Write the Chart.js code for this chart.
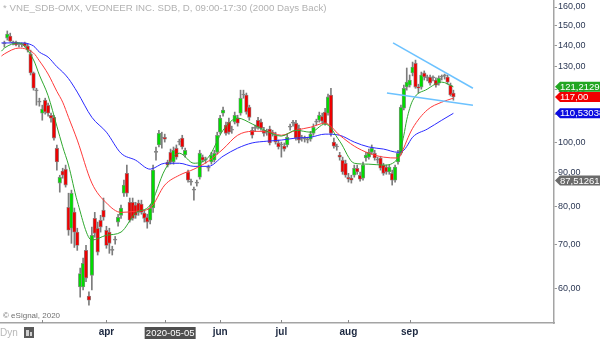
<!DOCTYPE html>
<html lang="en">
<head>
<meta charset="UTF-8">
<title>VNE_SDB-OMX daily</title>
<script src="https://cdn.jsdelivr.net/npm/chart.js"></script>
<style>
  html, body { margin: 0; padding: 0; background: #fff; }
  #wrap { width: 600px; height: 339px; }
</style>
</head>
<body>
<div id="wrap"><canvas id="myChart" width="600" height="339"></canvas></div>
<script>
// daily bars, 2020-02-12 .. 2020-09-22 (bar index 0..154)
const opens = [
  140.7, 143.6, 144.6, 141.2, 141.6, 140.5, 140.4, 141.2, 139.7, 135.9,
  127.2, 119.5, 114.9, 110.6, 115.7, 113.7, 109.8, 109.0, 97.9, 86.7,
  90.4, 91.0, 79.7, 74.1, 78.4, 73.1, 60.4, 60.4, 68.6, 58.5,
  62.9, 76.7, 74.1, 76.2, 78.9, 73.6, 73.1, 68.6, 71.1, 75.7,
  77.5, 83.7, 89.7, 81.1, 81.1, 80.3, 80.9, 80.6, 78.1, 77.0,
  76.2, 79.5, 96.5, 99.0, 101.4, 101.7, 93.3, 96.5, 93.3, 97.9,
  100.0, 101.4, 95.6, 90.1, 87.0, 84.6, 86.7, 88.5, 94.9, 93.9,
  91.3, 93.3, 93.9, 96.5, 103.5, 110.6, 106.1, 107.2, 104.2, 107.2,
  108.7, 110.6, 117.8, 117.8, 112.9, 104.2, 104.9, 107.9, 107.2, 104.2,
  103.5, 104.6, 103.1, 102.4, 99.7, 99.0, 98.6, 99.0, 105.3, 106.8,
  106.8, 104.9, 101.4, 101.0, 100.7, 101.0, 103.1, 107.2, 107.9, 109.4,
  111.0, 110.6, 117.8, 100.0, 98.3, 95.6, 93.9, 92.9, 88.5, 88.2,
  89.1, 91.3, 89.1, 88.2, 94.6, 94.9, 96.5, 96.2, 93.9, 94.6,
  92.3, 91.7, 90.1, 89.7, 87.6, 93.3, 96.2, 112.5, 121.1, 121.9,
  127.2, 131.6, 121.1, 121.1, 127.2, 125.0, 125.4, 125.0, 124.1, 122.8,
  125.4, 125.9, 125.4, 121.9, 118.6
];
const highs = [
  142.1, 147.2, 146.1, 142.1, 142.1, 141.2, 141.2, 141.6, 140.7, 137.7,
  127.6, 120.6, 116.5, 113.7, 116.5, 114.5, 110.6, 109.8, 99.0, 89.1,
  91.3, 92.3, 83.7, 84.6, 79.5, 74.1, 64.5, 66.8, 69.8, 59.4,
  74.4, 78.3, 75.7, 77.5, 82.3, 74.6, 74.1, 69.6, 72.0, 77.8,
  80.3, 87.6, 92.3, 82.3, 82.3, 81.1, 81.7, 81.7, 78.9, 77.8,
  80.3, 92.3, 98.3, 104.2, 103.5, 102.8, 93.9, 97.6, 98.3, 99.0,
  101.0, 102.4, 97.9, 90.7, 87.9, 85.5, 87.6, 97.2, 95.6, 94.9,
  92.3, 96.5, 97.2, 103.5, 109.8, 112.9, 107.2, 108.7, 105.7, 111.0,
  109.8, 119.8, 119.8, 118.6, 113.7, 105.3, 106.1, 109.0, 108.3, 105.3,
  104.6, 105.7, 104.2, 103.5, 100.7, 100.0, 99.7, 102.8, 106.5, 107.9,
  107.9, 106.1, 102.4, 102.1, 101.7, 103.8, 106.5, 108.3, 111.0, 110.6,
  112.5, 118.2, 120.6, 101.4, 99.3, 96.5, 94.9, 93.9, 89.7, 89.1,
  92.3, 92.3, 90.1, 93.3, 96.5, 97.6, 99.0, 97.2, 94.9, 95.2,
  92.9, 92.3, 92.3, 90.7, 92.3, 97.2, 113.7, 121.9, 129.4, 126.3,
  132.1, 133.0, 122.3, 127.6, 128.1, 126.3, 126.3, 125.9, 125.0, 125.9,
  126.3, 126.7, 126.3, 122.8, 119.8
];
const lows = [
  139.2, 142.6, 141.6, 140.2, 139.7, 139.2, 139.2, 139.2, 136.8, 126.3,
  119.8, 113.7, 113.3, 107.9, 110.2, 109.4, 107.2, 100.7, 90.7, 84.0,
  88.2, 85.5, 72.3, 70.3, 69.3, 68.6, 58.3, 59.8, 61.5, 56.7,
  59.8, 71.8, 67.5, 73.1, 76.2, 69.1, 67.9, 67.5, 70.1, 74.6,
  76.7, 82.8, 82.8, 75.7, 76.2, 76.7, 77.5, 77.8, 75.7, 74.1,
  75.2, 78.3, 93.9, 98.3, 97.9, 100.0, 91.7, 92.6, 92.6, 94.2,
  99.0, 97.6, 94.9, 87.0, 86.1, 81.7, 85.8, 87.9, 93.3, 92.9,
  90.4, 92.6, 93.3, 95.9, 102.8, 109.4, 102.4, 102.8, 103.1, 106.5,
  105.7, 109.8, 116.5, 110.2, 107.9, 101.4, 103.8, 104.6, 104.2, 102.1,
  102.4, 99.0, 102.1, 99.3, 97.6, 94.9, 96.9, 98.3, 104.2, 105.7,
  100.7, 99.7, 100.3, 100.0, 99.7, 100.3, 102.4, 106.1, 107.2, 106.8,
  106.1, 109.8, 102.1, 97.9, 97.2, 93.9, 89.4, 88.5, 87.0, 86.7,
  88.5, 89.4, 87.3, 87.6, 93.6, 94.2, 95.9, 93.9, 92.9, 90.7,
  89.1, 89.4, 89.4, 86.1, 87.0, 92.6, 95.6, 111.8, 119.8, 121.1,
  125.9, 120.6, 118.6, 120.2, 124.1, 123.7, 121.9, 123.7, 121.1, 121.9,
  124.1, 124.5, 122.3, 117.4, 115.7
];
const closes = [
  140.7, 145.6, 142.1, 141.2, 140.2, 140.5, 140.4, 139.7, 137.7, 127.2,
  120.6, 119.5, 114.9, 112.2, 111.0, 110.6, 108.7, 101.4, 93.3, 88.5,
  89.1, 86.1, 73.6, 83.7, 73.1, 69.8, 63.3, 65.6, 62.3, 57.7,
  72.3, 72.8, 68.2, 74.4, 77.0, 69.8, 70.3, 68.6, 71.1, 77.0,
  79.5, 86.1, 83.7, 76.2, 76.7, 77.5, 78.3, 78.3, 76.7, 75.7,
  79.5, 90.7, 96.5, 103.1, 101.4, 101.0, 92.3, 93.3, 97.2, 94.9,
  100.0, 98.3, 97.2, 87.6, 87.0, 84.6, 86.7, 96.2, 93.9, 93.9,
  91.3, 95.6, 96.2, 102.4, 108.7, 111.8, 103.1, 103.5, 104.2, 109.8,
  106.8, 116.5, 117.8, 111.0, 109.0, 102.4, 104.9, 105.3, 104.9, 103.1,
  103.5, 99.7, 103.1, 100.0, 98.3, 99.0, 97.6, 101.7, 105.3, 106.8,
  101.4, 100.7, 101.4, 101.0, 100.7, 102.8, 105.3, 107.2, 109.8, 107.5,
  106.8, 117.0, 103.1, 98.6, 98.3, 94.9, 90.1, 89.1, 87.9, 87.6,
  91.3, 90.1, 87.9, 92.3, 95.6, 96.5, 97.9, 94.6, 93.9, 91.3,
  89.7, 90.1, 91.7, 87.6, 91.7, 96.2, 112.9, 120.6, 123.2, 124.1,
  129.8, 121.1, 120.6, 126.3, 125.4, 125.0, 122.8, 125.0, 121.9, 125.0,
  125.4, 125.9, 123.2, 117.8, 117.0
];

// moving averages at these bar positions
const maIndex = [-1, 0, 5, 10, 12, 15, 18, 20, 22, 25, 30, 35, 40, 45, 50, 55, 60, 65, 70,
  75, 80, 85, 90, 95, 100, 105, 110, 115, 120, 125, 130, 135, 137, 138, 140, 145, 150, 154];
const maFast = [137.2, 138.7, 141.2, 133.1, 126.3, 117.5, 105.7, 98.4, 92.3, 81.4, 71.1, 72.3, 73.1,
  78.1, 80.3, 90.7, 96.2, 92.9, 94.9, 104.2, 108.7, 106.5, 103.8, 102.1, 104.2, 103.5, 106.5,
  100.3, 92.9, 92.6, 92.3, 94.6, 102.4, 108.1, 115.5, 120.2, 123.2, 121.21];
const maMid = [134.9, 135.9, 138.7, 136.3, 132.7, 126.7, 119.3, 114.9, 109.0, 100.7, 86.7, 80.9, 78.3,
  78.6, 79.5, 86.1, 89.1, 91.0, 93.6, 97.6, 102.4, 103.8, 103.8, 102.4, 104.2, 105.3, 106.8,
  102.4, 98.6, 96.2, 94.9, 94.6, 98.0, 100.5, 104.9, 111.8, 114.9, 116.5];
const maSlow = [141.2, 141.2, 141.2, 139.7, 136.8, 134.4, 130.0, 127.6, 124.7, 119.0, 109.0, 103.5, 96.2,
  93.9, 91.0, 92.9, 92.9, 91.9, 91.9, 95.2, 97.9, 99.7, 100.3, 100.7, 101.4, 101.7, 102.8,
  102.4, 100.0, 98.3, 97.6, 96.5, 97.2, 98.5, 101.7, 104.6, 107.9, 110.53];

// hand drawn triangle, [bar position, price]
const upperTrend = [[133.3, 141.2], [160.7, 120.6]];
const lowerTrend = [[131.2, 118.6], [160.7, 113.7]];

const monthTicks = [13, 35, 55, 74, 95, 118, 139];
const monthLabels = ['', 'apr', '', 'jun', 'jul', 'aug', 'sep'];
const priceTicks = [60, 70, 80, 90, 100, 110, 120, 130, 140, 150, 160];

const crosshairBar = 56;
const crosshairDate = '2020-05-05';
const titleText = '* VNE_SDB-OMX, VEONEER INC. SDB, D, 09:00-17:30 (2000 Days Back)';

const tagValues = [121.2129, 117.00, 110.53038, 87.51261];
const tagTexts = ['121,21290', '117,00', '110,53038', '87,51261'];
const tagColors = ['#22a622', '#f20000', '#0b0be0', '#6a6a6a'];

const FONT = '"Liberation Sans", Arial, sans-serif';

const wickData = opens.map((o, i) => ({ x: i, y: [lows[i], highs[i]] }));
const bodyData = opens.map((o, i) => ({ x: i, y: [o, closes[i]] }));
const bodyColors = opens.map((o, i) =>
  closes[i] > o ? '#00dc00' : (closes[i] < o ? '#ee0000' : '#808080'));

const toPoints = vals => maIndex.map((x, k) => ({ x: x, y: vals[k] }));
const toLine = pts => pts.map(p => ({ x: p[0], y: p[1] }));

function maSet(vals, color) {
  return {
    type: 'line',
    data: toPoints(vals),
    borderColor: color,
    borderWidth: 1,
    pointRadius: 0,
    cubicInterpolationMode: 'monotone',
    order: 1
  };
}

function trendSet(pts) {
  return {
    type: 'line',
    data: toLine(pts),
    borderColor: '#6cc2ff',
    borderWidth: 1.5,
    pointRadius: 0,
    order: 0
  };
}

const decor = {
  id: 'decor',
  afterDraw(chart) {
    const { ctx } = chart;
    const x = chart.scales.x, y = chart.scales.y;
    const bottom = chart.chartArea.bottom;
    ctx.save();

    ctx.textBaseline = 'middle';
    ctx.textAlign = 'left';
    ctx.font = '9.7px ' + FONT;
    ctx.fillStyle = '#b2b2b2';
    ctx.fillText(titleText, 3, 8);

    ctx.font = '8px ' + FONT;
    ctx.fillStyle = '#707070';
    ctx.fillText('\u00a9 eSignal, 2020', 3, 316);

    // small marks on the time axis
    ctx.strokeStyle = '#8a8a8a';
    ctx.lineWidth = 1;
    monthTicks.forEach(v => {
      const px = Math.round(x.getPixelForValue(v)) + 0.5;
      ctx.beginPath();
      ctx.moveTo(px, bottom - 3);
      ctx.lineTo(px, bottom);
      ctx.stroke();
    });

    ctx.font = '10px ' + FONT;
    ctx.fillStyle = '#b8b8b8';
    ctx.fillText('Dyn', 0, 333);
    ctx.fillStyle = '#5a5a5a';
    ctx.fillRect(24, 327, 10, 11);
    ctx.fillStyle = '#d0d0d0';
    ctx.fillRect(26, 330, 3, 6);
    ctx.fillRect(30, 332, 2, 4);

    // crosshair date on the time axis
    const cx = x.getPixelForValue(crosshairBar) + 2;
    ctx.fillStyle = '#4f4f4f';
    ctx.fillRect(cx - 25, 327, 51, 12);
    ctx.fillStyle = '#ffffff';
    ctx.textAlign = 'center';
    ctx.font = '9.5px ' + FONT;
    ctx.fillText(crosshairDate, cx + 0.5, 333.5);

    // value tags on the price axis
    ctx.textAlign = 'left';
    ctx.font = '9.5px ' + FONT;
    tagValues.forEach((v, k) => {
      const py = y.getPixelForValue(v);
      ctx.fillStyle = tagColors[k];
      ctx.beginPath();
      ctx.moveTo(555, py);
      ctx.lineTo(560, py - 5);
      ctx.lineTo(600, py - 5);
      ctx.lineTo(600, py + 5);
      ctx.lineTo(560, py + 5);
      ctx.closePath();
      ctx.fill();
      ctx.fillStyle = '#ffffff';
      ctx.fillText(tagTexts[k], 560, py + 0.5);
    });
    ctx.restore();
  }
};

const ctx = document.getElementById('myChart').getContext('2d');
const myChart = new Chart(ctx, {
  type: 'bar',
  data: {
    datasets: [
      trendSet(upperTrend),
      trendSet(lowerTrend),
      maSet(maFast, '#2fa82f'),
      maSet(maMid, '#ff3a3a'),
      maSet(maSlow, '#2a2aff'),
      {
        data: bodyData,
        backgroundColor: bodyColors,
        borderColor: '#8a8a8a',
        borderWidth: 0.8,
        borderSkipped: false,
        barThickness: 3.6,
        minBarLength: 1,
        grouped: false,
        order: 2
      },
      {
        data: wickData,
        backgroundColor: '#7c7c7c',
        borderWidth: 0,
        barThickness: 1,
        grouped: false,
        order: 3
      }
    ]
  },
  options: {
    responsive: false,
    animation: false,
    events: [],
    layout: { padding: 0 },
    plugins: {
      legend: { display: false },
      tooltip: { enabled: false }
    },
    scales: {
      x: {
        type: 'linear',
        min: -1.5,
        max: 188.5,
        offset: false,
        afterBuildTicks: s => { s.ticks = monthTicks.map(v => ({ value: v })); },
        afterFit: s => { s.height = 16; s.paddingLeft = 0; s.paddingRight = 0; },
        ticks: {
          autoSkip: false,
          maxRotation: 0,
          padding: 3,
          color: '#1c2840',
          font: { family: FONT, size: 10, weight: 'bold' },
          callback: (v, i) => monthLabels[i] || ''
        },
        grid: { drawOnChartArea: false, drawTicks: false },
        border: { color: '#a4a4a4', width: 1.5 }
      },
      y: {
        type: 'logarithmic',
        position: 'right',
        min: 53.28,
        max: 163.95,
        afterBuildTicks: s => { s.ticks = priceTicks.map(v => ({ value: v })); },
        afterFit: s => { s.width = 46; s.paddingTop = 0; s.paddingBottom = 0; },
        ticks: {
          autoSkip: false,
          padding: 1,
          color: '#2c3854',
          font: { family: FONT, size: 9 },
          callback: v => Number(v).toFixed(2).replace('.', ',')
        },
        grid: { drawOnChartArea: false, tickLength: 3, tickColor: '#999999' },
        border: { color: '#a4a4a4', width: 1.5 }
      }
    }
  },
  plugins: [decor]
});
</script>
</body>
</html>
